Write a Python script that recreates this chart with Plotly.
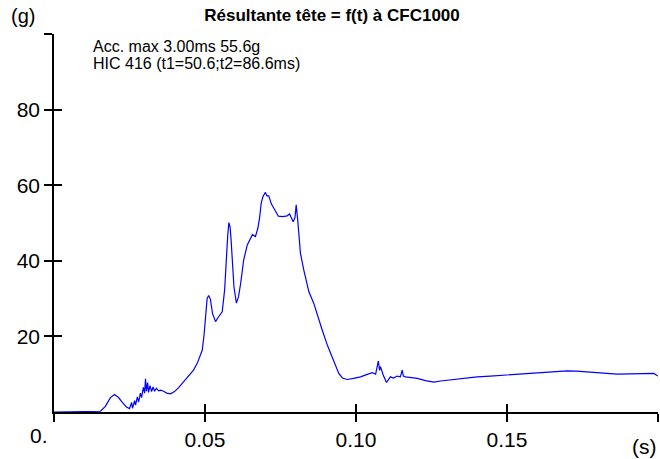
import plotly.graph_objects as go

# Time in ms, resultant head acceleration in g
t_ms = [0, 15.4, 17.0, 18.7, 20.0, 21.3, 22.7, 24.0, 25.0, 25.7, 26.0, 26.7, 27.0, 27.6, 28.0,
        28.6, 29.0, 29.6, 30.0, 30.3, 30.6, 31.0, 31.3, 31.8, 32.3, 32.8, 33.3, 33.9, 34.6,
        35.3, 36.3, 37.3, 38.6, 39.9, 41.2, 42.9, 44.5, 46.2, 47.5, 49.1, 49.7, 50.2, 50.7,
        51.2, 51.8, 52.5, 53.5, 54.5, 55.7, 56.5, 57.1, 57.5, 57.9, 58.3, 58.6, 59.0, 59.6,
        60.4, 61.1, 61.8, 62.8, 64.0, 65.1, 65.7, 66.7, 67.5, 68.1, 68.6, 69.2, 70.0, 70.5,
        71.1, 72.0, 73.3, 74.3, 75.7, 77.2, 78.0, 79.2, 79.8, 80.2, 80.7, 81.6, 82.7, 84.4,
        86.0, 87.7, 88.8, 90.6, 92.6, 94.3, 95.5, 97.1, 99.2, 101.5, 103.5, 105.4, 106.5,
        107.0, 107.4, 107.8, 108.1, 109.0, 110.1, 111.4, 112.4, 113.6, 114.7, 115.3, 115.7,
        116.4, 118.0, 120.3, 123.0, 125.8, 128.0, 131.3, 135.3, 140.1, 144.5, 150.1, 155.1,
        161.1, 166.1, 169.9, 173.0, 176.6, 181.0, 186.5, 190.9, 195.2, 198.6, 200.0]
acc_g = [0, 0.2, 1.5, 3.8, 4.6, 3.9, 2.5, 1.3, 0.9, 2.5, 1.0, 3.0, 1.8, 4.0, 2.6,
         5.0, 3.8, 6.5, 5.0, 8.8, 5.5, 7.8, 5.2, 7.0, 5.4, 6.6, 5.5, 6.3, 5.6,
         5.8, 5.5, 5.0, 4.8, 5.4, 6.4, 8.0, 9.8, 11.1, 13.0, 16.4, 20.5, 26.0, 30.0,
         30.8, 29.8, 26.0, 23.9, 25.2, 26.5, 32.3, 43.0, 46.4, 50.1, 49.0, 46.0, 40.2, 33.0,
         28.8, 30.5, 34.0, 40.2, 44.2, 46.0, 46.9, 46.4, 48.6, 51.5, 55.2, 57.0, 58.1, 57.2,
         57.2, 55.0, 53.0, 51.8, 51.7, 51.9, 52.4, 50.3, 51.5, 54.8, 50.8, 42.0, 37.6, 31.8,
         28.8, 24.3, 21.7, 17.5, 13.8, 10.2, 9.0, 8.6, 8.9, 9.3, 9.9, 10.4, 10.0,
         12.5, 13.5, 11.0, 12.0, 9.8, 7.8, 9.3, 9.0, 9.5, 9.3, 11.1, 9.5,
         9.3, 9.2, 8.9, 8.3, 7.9, 8.2, 8.5, 8.9, 9.3, 9.5, 9.8, 10.1,
         10.4, 10.8, 10.9, 10.8, 10.6, 10.3, 10.0, 10.1, 10.2, 10.2, 9.5]
t_s = [v / 1000 for v in t_ms]

x_ticks = [0, 0.05, 0.10, 0.15, 0.20]
x_labels = ["", "0.05", "0.10", "0.15", ""]
y_ticks = [20, 40, 60, 80, 100]
y_labels = ["20", "40", "60", "80", ""]

title_text = "<b>Résultante tête = f(t) à CFC1000</b>"
info_lines = ["Acc. max 3.00ms 55.6g", "HIC 416 (t1=50.6;t2=86.6ms)"]

FONT = "Liberation Sans, Arial, sans-serif"

fig = go.Figure()
fig.add_trace(go.Scatter(x=t_s, y=acc_g, mode="lines",
                         line=dict(color="#0000ff", width=1.2), hoverinfo="skip"))
fig.add_trace(go.Scatter(x=t_s, y=acc_g, mode="lines", xaxis="x2", yaxis="y2",
                         line=dict(color="rgba(0,0,0,0)", width=0), hoverinfo="skip"))

axis_common = dict(showgrid=False, zeroline=False, showline=True, linecolor="black",
                   linewidth=1.6, tickcolor="black", tickwidth=1.6, ticklen=8)

fig.update_layout(
    width=660, height=459,
    margin=dict(l=54, r=2, t=34, b=47),
    paper_bgcolor="white", plot_bgcolor="white",
    showlegend=False,
    font=dict(family=FONT, color="black"),
    title=dict(text=title_text, x=332 / 660, xref="container", xanchor="center",
               y=1 - 15.5 / 459, yref="container", yanchor="middle",
               font=dict(size=17, family=FONT, color="black")),
    xaxis=dict(range=[0, 0.2], tickvals=x_ticks, ticktext=x_labels, ticks="outside",
               tickfont=dict(size=21, family=FONT), **axis_common),
    yaxis=dict(range=[0, 100], tickvals=y_ticks, ticktext=y_labels, ticks="outside",
               tickfont=dict(size=21, family=FONT), **axis_common),
    xaxis2=dict(range=[0, 0.2], tickvals=x_ticks, ticks="inside", showticklabels=False,
                overlaying="x", **axis_common),
    yaxis2=dict(range=[0, 100], tickvals=y_ticks, ticks="inside", showticklabels=False,
                overlaying="y", **axis_common),
)

W, H, L, B = 604, 378, 54, 412

def px_to_paper(px, py):
    return (px - L) / W, (B - py) / H

ann = [
    ("(g)", 22.5, 15.5, 20, "center"),
    ("0.", 39, 435.5, 21, "center"),
    ("(s)", 644, 446, 21, "center"),
]
for text, px, py, size, xa in ann:
    ax, ay = px_to_paper(px, py)
    fig.add_annotation(text=text, x=ax, y=ay, xref="paper", yref="paper",
                       xanchor=xa, yanchor="middle", showarrow=False,
                       font=dict(size=size, family=FONT, color="black"))

for i, line in enumerate(info_lines):
    ax, ay = px_to_paper(90.7, 46.5 + 17.3 * i)
    fig.add_annotation(text=line, x=ax, y=ay, xref="paper", yref="paper",
                       xanchor="left", yanchor="middle", showarrow=False,
                       font=dict(size=16, family=FONT, color="black"))

fig.write_html("out.html")
